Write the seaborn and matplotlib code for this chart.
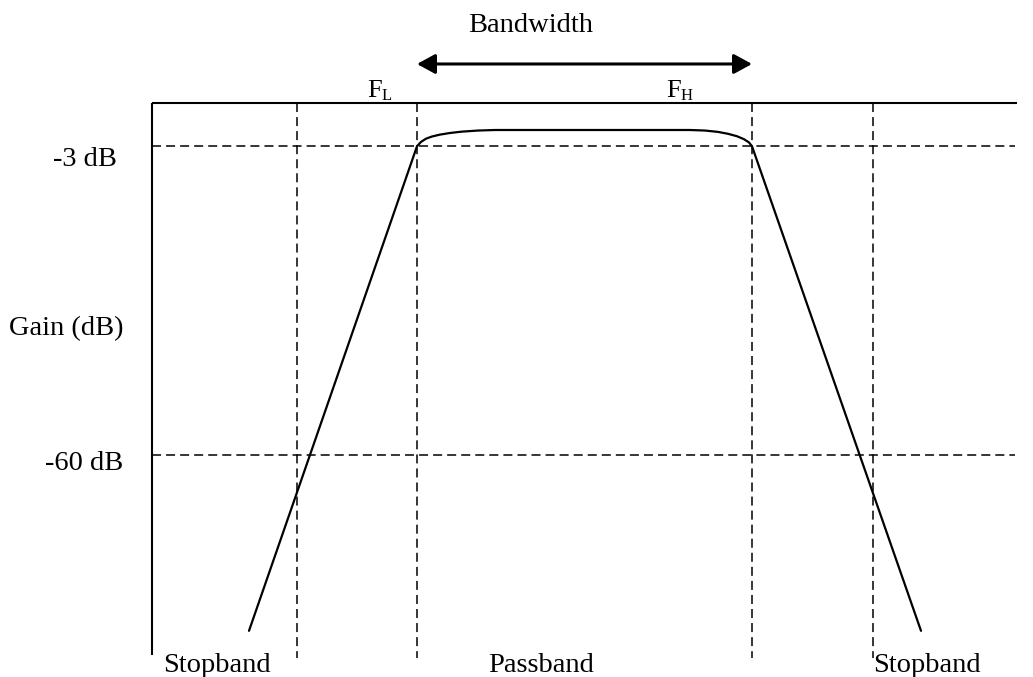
import matplotlib
matplotlib.use("Agg")
import matplotlib.pyplot as plt
import seaborn as sns

# ---- data (schematic frequency units, gain in dB) ----
curve_freq = [249, 417, 421, 426, 432, 440, 450, 462, 478, 495,
              690, 705, 718, 728, 737, 744, 749, 752, 921]
curve_gain = [-92.4, -3.0, -2.2, -1.6, -1.2, -0.85, -0.55, -0.3, -0.1, 0.0,
              0.0, -0.1, -0.35, -0.7, -1.15, -1.7, -2.3, -3.0, -92.4]

gain_levels = [-3, -60]
gain_labels = ["-3 dB", "-60 dB"]
freq_marks = [297, 417, 752, 873]          # stopband edge, F_L, F_H, stopband edge
band_labels = ["Stopband", "Passband", "Stopband"]

# ---- style ----
sns.set_theme(style="white")
plt.rcParams["font.family"] = ["Liberation Serif", "DejaVu Serif"]
plt.rcParams["text.color"] = "black"

fig = plt.figure(figsize=(10.33, 6.77), dpi=100)
ax = fig.add_axes([0, 0, 1, 1])
ax.set_xlim(0, 1033)
ax.set_ylim(-100.92, 23.985)
ax.axis("off")

axis_x = 152
top_gain = 5.0
bottom_axis = -96.9
bottom_dash = -97.4
right_end = 1017

dash = (5.9, 3.3)
# axes frame (left and top)
ax.plot([axis_x, axis_x], [top_gain, bottom_axis], color="black", lw=1.5, solid_capstyle="butt")
ax.plot([axis_x, right_end], [top_gain, top_gain], color="black", lw=1.5, solid_capstyle="butt")

# dashed horizontal gain levels
for g in gain_levels:
    ax.plot([axis_x, right_end - 2], [g, g], color="black", lw=1.1, dashes=dash)

# dashed vertical frequency marks
for f in freq_marks:
    ax.plot([f, f], [top_gain, bottom_dash], color="black", lw=1.1, dashes=dash)

# response curve
sns.lineplot(x=curve_freq, y=curve_gain, sort=False, estimator=None,
             color="black", lw=1.6, ax=ax)

# bandwidth arrow
ax.annotate("", xy=(freq_marks[1], 12.18), xytext=(freq_marks[2], 12.18),
            arrowprops=dict(arrowstyle="<|-|>,head_length=0.55,head_width=0.3",
                            mutation_scale=20, color="black", lw=2.2,
                            shrinkA=0, shrinkB=0))

fs = 20.5
ax.text(468, 18.1, "Bandwidth", fontsize=fs, ha="left", va="baseline", color="black")
ax.text(367, 6.1, "F", fontsize=19, ha="left", va="baseline", color="black")
ax.text(382, 5.6, "L", fontsize=12, ha="left", va="baseline", color="black")
ax.text(666, 6.1, "F", fontsize=19, ha="left", va="baseline", color="black")
ax.text(681, 5.6, "H", fontsize=12, ha="left", va="baseline", color="black")

ax.text(53, -6.6, gain_labels[0], fontsize=fs, ha="left", va="baseline", color="black")
ax.text(9, -37.8, "Gain (dB)", fontsize=fs, ha="left", va="baseline", color="black")
ax.text(45, -62.7, gain_labels[1], fontsize=fs, ha="left", va="baseline", color="black")

ax.text(163, -100.0, band_labels[0], fontsize=fs, ha="left", va="baseline", color="black")
ax.text(488, -100.0, band_labels[1], fontsize=fs, ha="left", va="baseline", color="black")
ax.text(873, -100.0, band_labels[2], fontsize=fs, ha="left", va="baseline", color="black")

fig.savefig("out.png", dpi=100)
